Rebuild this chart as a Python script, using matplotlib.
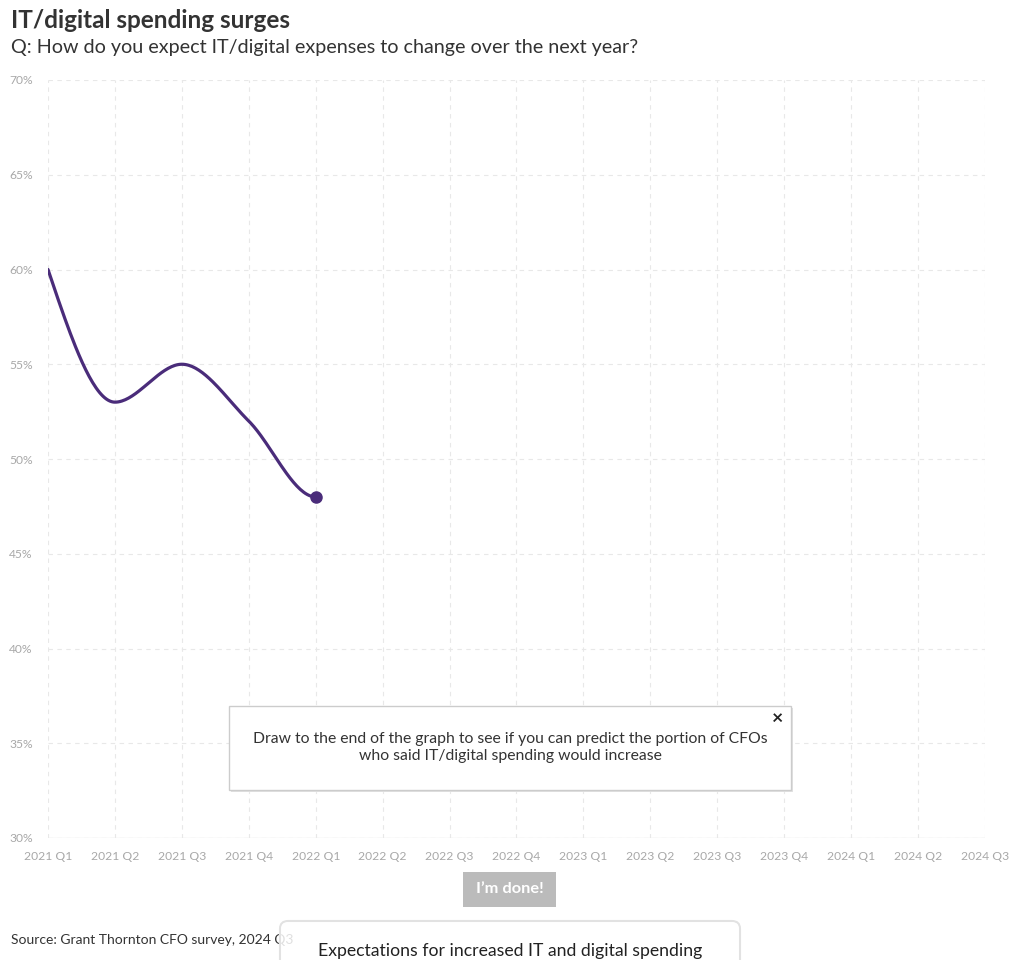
import numpy as np
import matplotlib.pyplot as plt
from matplotlib.patches import Rectangle, FancyBboxPatch

plt.rcParams['font.family'] = ['Lato', 'DejaVu Sans']

# Dữ liệu
quarters = ['2021 Q1', '2021 Q2', '2021 Q3', '2021 Q4', '2022 Q1', '2022 Q2', '2022 Q3',
            '2022 Q4', '2023 Q1', '2023 Q2', '2023 Q3', '2023 Q4', '2024 Q1', '2024 Q2', '2024 Q3']
known_values = [60, 53, 55, 52, 48]
y_ticks = [30, 35, 40, 45, 50, 55, 60, 65, 70]

purple = '#4a2c7a'
grey_txt = '#a8a8a8'
grid_col = '#e8e8e8'


def monotone_curve(x, y, end_slope=None, n=40):
    # đường cong đơn điệu kiểu d3 curveMonotoneX
    x = np.asarray(x, float)
    y = np.asarray(y, float)
    h = np.diff(x)
    s = np.diff(y) / h
    t = np.zeros_like(y)
    for i in range(1, len(y) - 1):
        s0, s1 = s[i - 1], s[i]
        p = (s0 * h[i] + s1 * h[i - 1]) / (h[i - 1] + h[i])
        t[i] = (np.sign(s0) + np.sign(s1)) * min(abs(s0), abs(s1), 0.5 * abs(p))
    t[0] = (3 * s[0] - t[1]) / 2
    t[-1] = (3 * s[-1] - t[-2]) / 2 if end_slope is None else end_slope
    xs, ys = [], []
    for i in range(len(h)):
        u = np.linspace(0, 1, n)
        h00 = 2 * u**3 - 3 * u**2 + 1
        h10 = u**3 - 2 * u**2 + u
        h01 = -2 * u**3 + 3 * u**2
        h11 = u**3 - u**2
        xs.append(x[i] + u * h[i])
        ys.append(h00 * y[i] + h10 * h[i] * t[i] + h01 * y[i + 1] + h11 * h[i] * t[i + 1])
    return np.concatenate(xs), np.concatenate(ys)


fig = plt.figure(figsize=(10.2, 9.6), dpi=100)
ax = fig.add_axes([48 / 1020, 1 - 838 / 960, 937 / 1020, 758 / 960])

xk = np.arange(len(known_values))
cx, cy = monotone_curve(xk, known_values, end_slope=0)
ax.plot(cx, cy, color=purple, lw=2.3, solid_capstyle='round', zorder=3)
ax.plot(xk[-1], known_values[-1], 'o', color=purple, ms=8, zorder=4)

ax.set_xlim(0, len(quarters) - 1)
ax.set_ylim(30, 70)
ax.set_xticks(np.arange(len(quarters)))
ax.set_xticklabels(quarters)
ax.set_yticks(y_ticks)
ax.set_yticklabels([f'{v}%' for v in y_ticks])
ax.tick_params(colors=grey_txt, labelsize=8.7, length=0)
ax.tick_params(axis='x', pad=9)
ax.tick_params(axis='y', pad=11)
for sp_ in ax.spines.values():
    sp_.set_visible(False)
ax.axhline(30, color=grid_col, lw=1, zorder=1)
ax.grid(True, color=grid_col, ls=(0, (4, 4)), lw=0.8)
ax.set_axisbelow(True)

# Tiêu đề
fig.text(11 / 1020, 1 - 21 / 960, 'IT/digital spending surges', fontsize=17.5, fontweight='bold',
         color='#333333', va='center')
fig.text(11 / 1020, 1 - 47 / 960, 'Q: How do you expect IT/digital expenses to change over the next year?',
         fontsize=14.2, color='#333333', va='center')

# Hộp gợi ý
shadow = Rectangle((231 / 1020, 1 - 792 / 960), 562 / 1020, 84 / 960, transform=fig.transFigure,
                   facecolor='#e2e2e2', edgecolor='none', zorder=5)
fig.patches.append(shadow)
box = Rectangle((229 / 1020, 1 - 790 / 960), 562 / 1020, 84 / 960, transform=fig.transFigure,
                facecolor='white', edgecolor='#cccccc', lw=1, zorder=6)
fig.patches.append(box)
fig.text(510 / 1020, 1 - 747.5 / 960,
         'Draw to the end of the graph to see if you can predict the portion of CFOs\n'
         'who said IT/digital spending would increase',
         ha='center', va='center', fontsize=11.3, color='#333333', linespacing=1.3, zorder=7)
fig.text(778 / 1020, 1 - 718 / 960, '×', ha='center', va='center', fontsize=14,
         fontweight='bold', color='#222222', zorder=7)

# Nút
btn = Rectangle((463 / 1020, 1 - 907 / 960), 93 / 1020, 35 / 960, transform=fig.transFigure,
                facecolor='#bbbbbb', edgecolor='none', zorder=5)
fig.patches.append(btn)
fig.text(509.5 / 1020, 1 - 889 / 960, 'I’m done!', ha='center', va='center', fontsize=11.8,
         fontweight='bold', color='white', zorder=6)

# Nguồn
fig.text(11 / 1020, 1 - 940 / 960, 'Source: Grant Thornton CFO survey, 2024 Q3', fontsize=10,
         color='#333333', va='center', zorder=4)

# Thẻ phía dưới
card_sh = FancyBboxPatch((280 / 1020, 1 - 990 / 960), 460 / 1020, 69 / 960, transform=fig.transFigure,
                         boxstyle='round,pad=0,rounding_size=0.008', facecolor='none',
                         edgecolor='#e2e2e2', lw=1.5, zorder=5)
fig.patches.append(card_sh)
card = FancyBboxPatch((281 / 1020, 1 - 990 / 960), 458 / 1020, 68 / 960, transform=fig.transFigure,
                      boxstyle='round,pad=0,rounding_size=0.008', facecolor='white',
                      edgecolor='none', alpha=0.85, zorder=6)
fig.patches.append(card)
fig.text(510 / 1020, 1 - 951 / 960, 'Expectations for increased IT and digital spending',
         ha='center', va='center', fontsize=12.7, color='#222222', zorder=7)

fig.savefig('out.png', dpi=100)
